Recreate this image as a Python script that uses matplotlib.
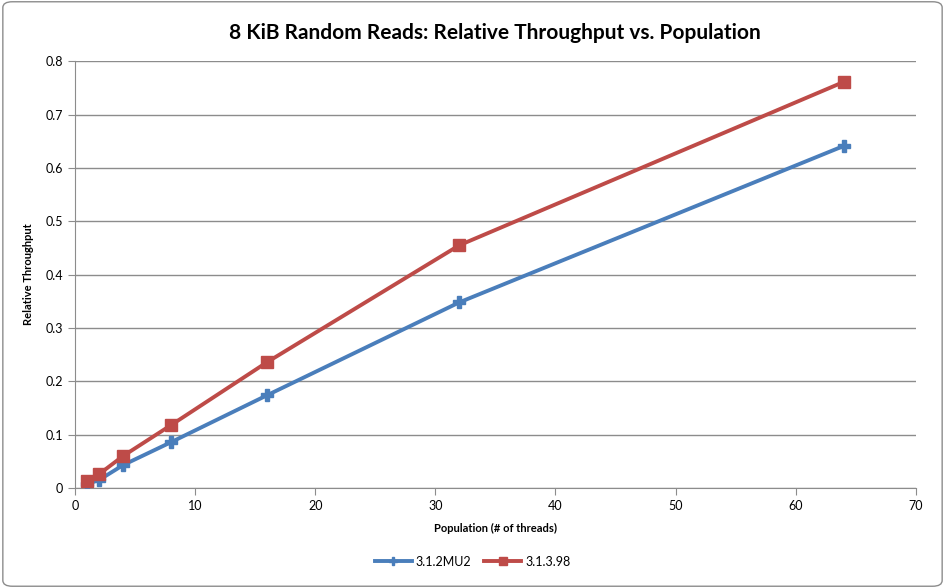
import matplotlib
matplotlib.use("Agg")
import matplotlib.pyplot as plt
from matplotlib.patches import FancyBboxPatch

threads = [1, 2, 4, 8, 16, 32, 64]
mu2 = [0.008, 0.015, 0.043, 0.086, 0.174, 0.348, 0.641]
v3198 = [0.013, 0.026, 0.060, 0.118, 0.236, 0.455, 0.761]
series_names = ["3.1.2MU2", "3.1.3.98"]
title = "8 KiB Random Reads: Relative Throughput vs. Population"
xlabel = "Population (# of threads)"
ylabel = "Relative Throughput"

plt.rcParams['font.family'] = ['Lato', 'DejaVu Sans']

fig = plt.figure(figsize=(9.45, 5.88), dpi=100)
fig.patches.append(FancyBboxPatch((0.003, 0.003), 0.994, 0.994, boxstyle="round,pad=0,rounding_size=0.01",
                                  transform=fig.transFigure, fill=False, edgecolor="#8c8c8c", linewidth=1.0))
ax = fig.add_axes([0.0794, 0.170, 0.8896, 0.726])

blue = "#4a7ebb"
red = "#be4b48"
ax.plot(threads, mu2, color=blue, lw=2.8, marker="P", markersize=8, label=series_names[0], zorder=3)
ax.plot(threads, v3198, color=red, lw=2.8, marker="s", markersize=9, label=series_names[1], zorder=4)

ax.set_xlim(0, 70)
ax.set_ylim(0, 0.8)
ax.set_xticks(range(0, 71, 10))
ax.set_yticks([i / 10 for i in range(0, 9)])
ax.set_yticklabels(["0"] + [f"{i/10:.1f}" for i in range(1, 9)])
ax.yaxis.grid(True, color="#8c8c8c", lw=1.0)
ax.set_axisbelow(True)
for s in ["top", "right"]:
    ax.spines[s].set_visible(False)
for s in ["left", "bottom"]:
    ax.spines[s].set_color("#8c8c8c")
ax.tick_params(axis="both", colors="#8c8c8c", labelcolor="black", labelsize=9, length=5, direction="out")

ax.set_title(title, fontsize=15, fontweight="bold", pad=16)
ax.set_xlabel(xlabel, fontsize=8, fontweight="bold", labelpad=8)
ax.set_ylabel(ylabel, fontsize=8, fontweight="bold", labelpad=8)

fig.legend(loc="center", bbox_to_anchor=(0.5, 0.045), ncol=2, frameon=False, fontsize=9,
           handlelength=3, columnspacing=1.0, handletextpad=0.3, markerscale=0.7)

fig.savefig("out.png", dpi=100)
